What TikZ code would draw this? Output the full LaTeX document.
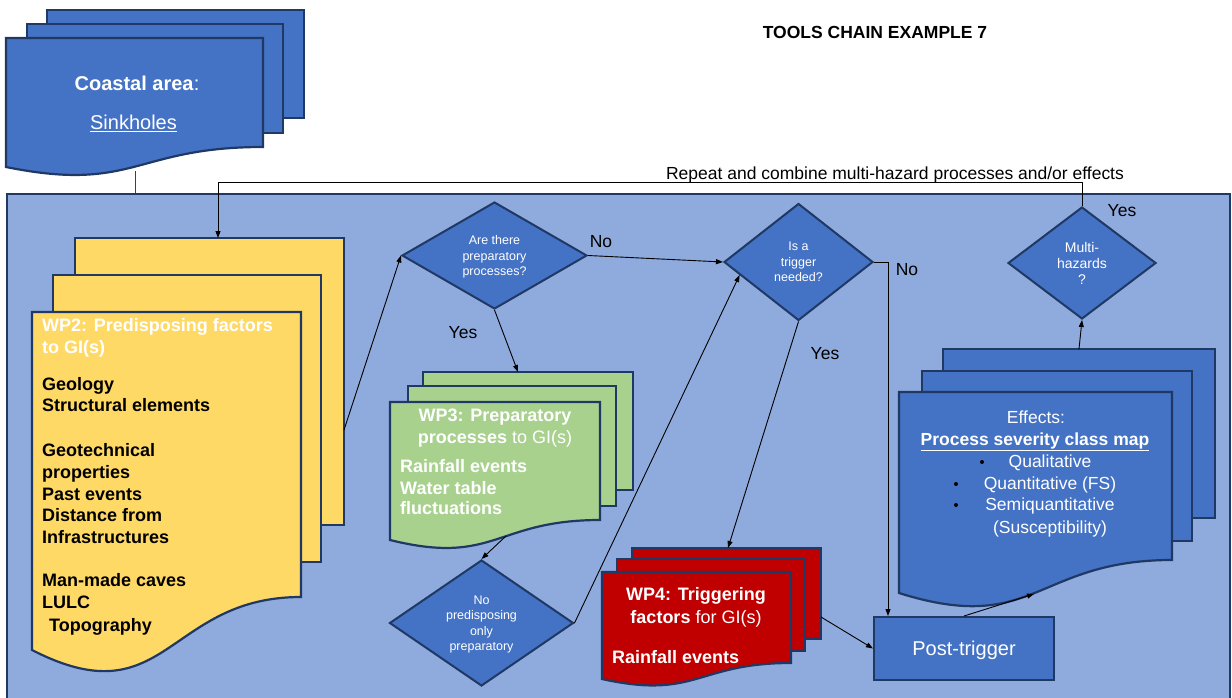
\documentclass[tikz,border=0pt]{standalone}
\usepackage{fontspec}
\setmainfont{Liberation Sans}
\usetikzlibrary{shapes.geometric,arrows.meta,calc}

\definecolor{panelblue}{HTML}{8FAADC}
\definecolor{shapeblue}{HTML}{4472C4}
\definecolor{edgenavy}{HTML}{1F3864}
\definecolor{docyellow}{HTML}{FFD966}
\definecolor{docgreen}{HTML}{A9D18E}
\definecolor{docred}{HTML}{C00000}

\newcommand\fs[2]{\fontsize{#1}{#2}\selectfont}

% a plain rear page of a document stack
\newcommand\backsheet[5]{\draw[#1] (#2,#3) rectangle (#4,#5);}
% front page with wavy bottom: style, x-left, y-top, x-right, y at right, y at left, dip control
\newcommand\frontsheet[7]{%
  \pgfmathsetmacro\sM{(#2+#4)/2}%
  \draw[#1] (#2,#3) -- (#4,#3) -- (#4,#5) .. controls (\sM,#5) and (\sM,#7) .. (#2,#6) -- cycle;}

\tikzset{
  sheet/.style={draw=edgenavy, line width=2.2pt, line join=miter},
  sblue/.style={sheet, fill=shapeblue},
  syellow/.style={sheet, fill=docyellow},
  sgreen/.style={sheet, fill=docgreen},
  sred/.style={sheet, fill=docred},
  dia/.style={diamond, draw=edgenavy, line width=2pt, fill=shapeblue, text=white,
    align=center, inner sep=0pt, text depth=0pt, font=\fs{12.5}{15.5}},
  box/.style={rectangle, draw=edgenavy, line width=2pt, fill=shapeblue, text=white,
    text depth=0pt, font=\fs{20}{24}},
  conn/.style={draw=black, line width=0.9pt, -{Triangle[length=7pt,width=5pt]}},
  plain/.style={draw=black!75, line width=0.9pt},
  lbl/.style={font=\fs{17.5}{21}, text=black, inner sep=0pt},
  wtxt/.style={font=\fs{18}{22}\bfseries, text=white, inner sep=0pt, yshift=-4pt},
  btxt/.style={font=\fs{18}{22}\bfseries, text=black, inner sep=0pt, yshift=-4pt},
  etxt/.style={font=\fs{17.5}{22}, text=white, inner sep=0pt, yshift=-4pt},
  dot/.style={circle, fill=black, inner sep=0pt, minimum size=4pt},
}

\begin{document}
\begin{tikzpicture}[x=1pt, y=-1pt]
\useasboundingbox (0,0) rectangle (1232,698);
\clip (0,0) rectangle (1232,698);

% title
\node[font=\fs{17.5}{21}\bfseries, inner sep=0pt] (title) at (875,32) {TOOLS CHAIN EXAMPLE 7};

% large working panel
\node[draw=edgenavy, line width=2pt, fill=panelblue, anchor=north west,
      minimum width=1223pt, minimum height=530pt, inner sep=0pt] (panel) at (6,193) {};

% study area stack
\backsheet{sblue}{47}{10}{304}{118}
\backsheet{sblue}{27}{24}{283}{133}
\frontsheet{sblue}{6}{38}{263}{147}{167}{193}
\node[font=\fs{20}{24}, text=white, inner sep=0pt] (coast) at (137,83) {\textbf{Coastal area}:};
\node[font=\fs{20}{24}, text=white, inner sep=0pt] (sink) at (133.5,123) {\underline{Sinkholes}};
\coordinate (tlBot) at (135,171);

% WP2 stack
\backsheet{syellow}{75}{238}{344}{525}
\backsheet{syellow}{53}{275}{321}{562}
\frontsheet{syellow}{32}{312}{301}{597}{650}{719}
\coordinate (yTop) at (218,238);
\coordinate (yRight) at (344,430);
\node[wtxt, anchor=mid west] (wp2a) at (42,325) {WP2: Predisposing factors};
\node[wtxt, anchor=mid west] (wp2b) at (42,347) {to GI(s)};
\foreach \yy/\t [count=\i] in {384/Geology, 405/Structural elements, 450/Geotechnical,
    472/properties, 494/Past events, 515/Distance from, 537/Infrastructures,
    580/Man-made caves, 602/LULC}
  \node[btxt, anchor=mid west] (wp2l\i) at (42,\yy) {\t};
\node[btxt, anchor=mid west] (wp2topo) at (49,625) {Topography};

% WP3 stack
\backsheet{sgreen}{423}{372}{633}{490}
\backsheet{sgreen}{408}{386}{616}{506}
\frontsheet{sgreen}{390}{402}{600}{520}{540}{566}
\coordinate (gTop) at (518,372);
\coordinate (gBot) at (506,536);
\node[wtxt, anchor=mid] (wp3a) at (495,415) {WP3: Preparatory};
\node[wtxt, anchor=mid, font=\fs{18}{22}] (wp3b) at (495,437) {\textbf{processes} to GI(s)};
\node[wtxt, anchor=mid west] (wp3c) at (400,466) {Rainfall events};
\node[wtxt, anchor=mid west] (wp3d) at (400,488) {Water table};
\node[wtxt, anchor=mid west] (wp3e) at (400,508) {fluctuations};

% WP4 stack
\backsheet{sred}{632}{548}{821}{639}
\backsheet{sred}{617}{559}{805}{651}
\frontsheet{sred}{602}{572}{791}{663}{679}{700}
\coordinate (rTop) at (728,548);
\coordinate (rRight) at (821,617);
\node[wtxt, anchor=mid] (wp4a) at (696,594) {WP4: Triggering};
\node[wtxt, anchor=mid, font=\fs{18}{22}] (wp4b) at (696,617) {\textbf{factors} for GI(s)};
\node[wtxt, anchor=mid west] (wp4c) at (612,657) {Rainfall events};

% effects stack
\backsheet{sblue}{943}{349}{1215}{518}
\backsheet{sblue}{922}{371}{1192}{541}
\frontsheet{sblue}{899}{392}{1172}{560}{593}{636}
\coordinate (eTop) at (1079,349);
\coordinate (eBot) at (1034,594);
\node[etxt, anchor=mid] (ef1) at (1036,417) {Effects:};
\node[etxt, anchor=mid, font=\fs{17.5}{22}\bfseries] (ef2) at (1035,439) {\underline{Process severity class map}};
\node[etxt, anchor=mid] (ef3) at (1050,461) {Qualitative};
\node[etxt, anchor=mid] (ef4) at (1050,483) {Quantitative (FS)};
\node[etxt, anchor=mid] (ef5) at (1050,504) {Semiquantitative};
\node[etxt, anchor=mid] (ef6) at (1050,527) {(Susceptibility)};
\node[dot] (bul1) at (982,462) {};
\node[dot] (bul2) at (956,484) {};
\node[dot] (bul3) at (956,505) {};

% decisions
\node[dia, minimum width=185pt, minimum height=107pt] (d1) at (494.5,255.5) {Are there\\preparatory\\processes?};
\node[dia, minimum width=149pt, minimum height=117pt] (d2) at (798.5,262) {Is a\\trigger\\needed?};
\node[dia, minimum width=184pt, minimum height=118pt] (d3) at (481.5,623) {No\\predisposing\\only\\preparatory};
\node[dia, minimum width=148pt, minimum height=112pt, font=\fs{14}{16}] (d4) at (1082,263) {Multi-\\hazards\\?};

% post-trigger
\node[box, minimum width=180pt, minimum height=63pt] (pt) at (964,648.5) {Post-trigger};

% connectors
\draw[plain] (tlBot) -- (tlBot |- panel.north);
\draw[conn] (yRight) -- (d1.west);
\draw[conn] (d1.east) -- (d2.west);
\draw[conn] (d1.south) -- (gTop);
\draw[conn] (gBot) -- (d3.north);
\draw[conn] (d3.east) -- ($(d2.west)!0.22!(d2.south)$);
\draw[conn] (d2.south) -- (rTop);
\draw[conn] (d2.east) -| ($(pt.north west)+(15,0)$);
\draw[conn] (rRight) -- (pt.west);
\draw[conn] (pt.north) -- (eBot);
\draw[conn] (eTop) -- (d4.south);
\draw[conn] (d4.north) -- ++(0,-24) -| (yTop);

% connector labels
\node[lbl, anchor=mid, yshift=-4pt] (loopTxt) at (895,173) {Repeat and combine multi-hazard processes and/or effects};
\node[lbl] (no1) at (601,242) {No};
\node[lbl] (yes1) at (463,333) {Yes};
\node[lbl] (no2) at (907,270) {No};
\node[lbl] (yes2) at (825,354) {Yes};
\node[lbl] (yes3) at (1122,211) {Yes};
\end{tikzpicture}
\end{document}
